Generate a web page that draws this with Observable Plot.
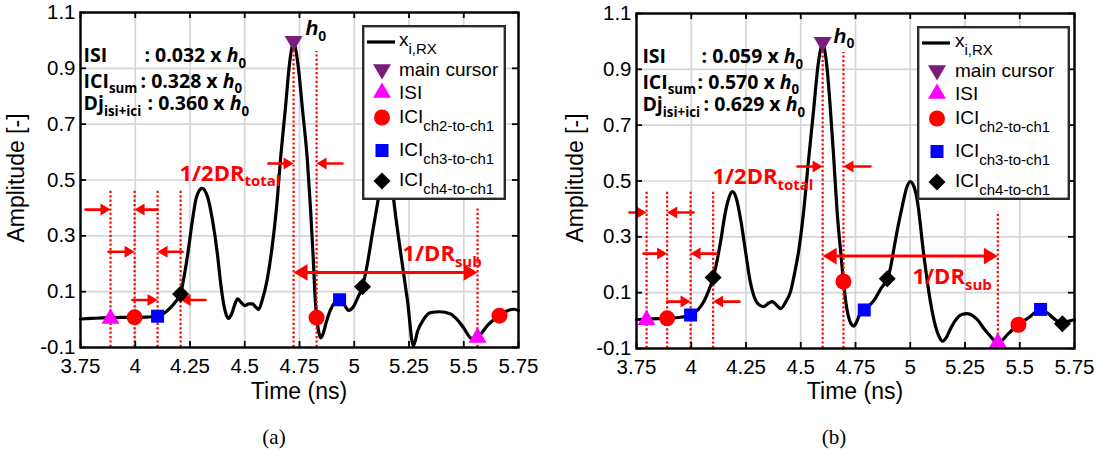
<!DOCTYPE html>
<html><head><meta charset="utf-8">
<script src="https://cdn.jsdelivr.net/npm/d3@7"></script>
<script src="https://cdn.jsdelivr.net/npm/@observablehq/plot@0.6"></script>
<style>
body{margin:0;background:#fff;}
#root{position:relative;width:1097px;height:450px;overflow:hidden;font-family:"Liberation Sans",Arial,sans-serif;color:#000;}
.panel{position:absolute;top:0;width:548px;height:400px;}
.ylab{position:absolute;font-size:23px;line-height:1;white-space:nowrap;transform:translate(-50%,-50%) rotate(-90deg);}
.xlab{position:absolute;font-size:23px;line-height:1;white-space:nowrap;transform:translateX(-50%);}
.cap{position:absolute;font-family:"Liberation Serif",serif;font-size:21px;line-height:1;transform:translate(-50%,-50%);}
.leg{position:absolute;overflow:visible;}
</style></head>
<body><div id="root"></div>
<script>
// ---------- data ----------
const xTicks = [3.75, 4, 4.25, 4.5, 4.75, 5, 5.25, 5.5, 5.75];
const yTicks = [-0.1, 0.1, 0.3, 0.5, 0.7, 0.9, 1.1];

// panel (a) received pulse x_i,RX
const timeA = [3.75,3.80,3.85,3.887,3.94,3.997,4.05,4.102,4.13,4.16,4.185,4.207,4.222,4.24,4.261,4.28,4.305,4.33,4.353,4.375,4.39,4.405,4.415,4.426,4.44,4.455,4.468,4.483,4.50,4.518,4.535,4.55,4.563,4.58,4.604,4.625,4.645,4.665,4.686,4.705,4.723,4.742,4.764,4.786,4.80,4.812,4.822,4.83,4.838,4.846,4.858,4.872,4.89,4.91,4.933,4.955,4.975,4.995,5.017,5.038,5.06,5.083,5.105,5.128,5.15,5.168,5.18,5.21,5.243,5.27,5.29,5.316,5.348,5.39,5.44,5.47,5.50,5.53,5.553,5.575,5.61,5.663,5.70,5.73,5.75];
const ampA  = [0.002,0.004,0.006,0.007,0.008,0.008,0.009,0.012,0.022,0.042,0.065,0.092,0.15,0.236,0.355,0.44,0.47,0.44,0.355,0.236,0.13,0.05,0.018,0.004,0.02,0.055,0.074,0.062,0.05,0.056,0.056,0.045,0.036,0.07,0.15,0.26,0.40,0.59,0.76,0.92,0.99,0.92,0.75,0.57,0.40,0.23,0.07,0.0,-0.045,-0.065,-0.05,-0.01,0.032,0.06,0.071,0.052,0.033,0.045,0.08,0.118,0.2,0.31,0.41,0.52,0.57,0.52,0.43,0.25,0.068,-0.094,-0.04,0.0,0.025,0.028,0.02,0.0,-0.03,-0.065,-0.072,-0.055,-0.02,0.014,0.032,0.037,0.032];

// panel (b)
const timeB = [3.75,3.796,3.85,3.89,3.94,3.997,4.03,4.06,4.08,4.10,4.118,4.134,4.155,4.172,4.188,4.205,4.226,4.248,4.268,4.284,4.305,4.33,4.352,4.37,4.39,4.408,4.43,4.453,4.472,4.49,4.513,4.535,4.558,4.58,4.60,4.618,4.636,4.65,4.666,4.682,4.695,4.705,4.716,4.73,4.742,4.755,4.768,4.79,4.815,4.84,4.864,4.885,4.895,4.91,4.923,4.945,4.965,4.983,5.0,5.017,5.033,5.06,5.092,5.115,5.132,5.147,5.165,5.184,5.21,5.235,5.26,5.285,5.307,5.336,5.366,5.39,5.40,5.45,5.494,5.545,5.595,5.625,5.655,5.695,5.725,5.75];
const ampB  = [0.003,0.005,0.007,0.008,0.011,0.02,0.038,0.072,0.108,0.154,0.215,0.283,0.385,0.44,0.462,0.44,0.36,0.247,0.145,0.093,0.06,0.05,0.062,0.068,0.055,0.043,0.065,0.103,0.17,0.247,0.39,0.57,0.749,0.92,0.99,0.92,0.75,0.59,0.39,0.25,0.14,0.07,0.02,-0.012,-0.02,-0.005,0.02,0.038,0.055,0.079,0.112,0.135,0.15,0.19,0.247,0.34,0.415,0.475,0.498,0.48,0.426,0.247,0.068,-0.02,-0.058,-0.074,-0.06,-0.029,0.005,0.022,0.025,0.018,0.003,-0.028,-0.056,-0.076,-0.08,-0.045,-0.015,0.013,0.04,0.028,0.008,-0.011,-0.002,0.003];

// sampled cursors [time, amplitude]
const mainA = [[4.723, 0.993]];
const isiA  = [[3.887, 0.008], [5.563, -0.06]];
const ch2A  = [[3.997, 0.008], [4.828, 0.007], [5.663, 0.014]];
const ch3A  = [[4.102, 0.012], [4.933, 0.071]];
const ch4A  = [[4.207, 0.092], [5.038, 0.118]];

const mainB = [[4.60, 0.993]];
const isiB  = [[3.796, 0.007], [5.40, -0.075]];
const ch2B  = [[3.89, 0.008], [4.695, 0.14], [5.494, -0.015]];
const ch3B  = [[3.997, 0.02], [4.79, 0.038], [5.595, 0.04]];
const ch4B  = [[4.10, 0.154], [4.895, 0.15], [5.695, -0.011]];

// dotted sampling instants [time, top amplitude]
const dottedA = [[3.887,0.46],[3.997,0.46],[4.102,0.46],[4.207,0.46],[4.723,0.99],[4.828,0.96],[5.563,0.40]];
const dottedB = [[3.796,0.46],[3.89,0.46],[3.997,0.46],[4.10,0.46],[4.60,0.99],[4.695,0.96],[5.40,0.39]];

// annotation arrows
const arrowsA = [
  {x1:3.773,x2:3.887,y:0.394},{x1:4.102,x2:3.997,y:0.394},
  {x1:3.878,x2:3.997,y:0.243},{x1:4.216,x2:4.102,y:0.243},
  {x1:3.987,x2:4.102,y:0.07},{x1:4.32,x2:4.207,y:0.07},
  {x1:4.608,x2:4.723,y:0.559},{x1:4.946,x2:4.828,y:0.559}];
const arrowsB = [
  {x1:3.718,x2:3.796,y:0.387},{x1:4.01,x2:3.89,y:0.387},
  {x1:3.782,x2:3.89,y:0.24},{x1:4.115,x2:3.997,y:0.24},
  {x1:3.89,x2:3.997,y:0.068},{x1:4.22,x2:4.10,y:0.068},
  {x1:4.485,x2:4.60,y:0.552},{x1:4.818,x2:4.695,y:0.552}];
const spanA = [{x1:4.723,x2:5.563,y:0.169}];
const spanB = [{x1:4.60,x2:5.40,y:0.231}];

// texts
const statLabels = ["ISI", "ICI_{sum}", "Dj_{isi+ici}"];
const statValsA = [": 0.032 x *{h}_{0}", ": 0.328 x *{h}_{0}", ": 0.360 x *{h}_{0}"];
const statValsB = [": 0.059 x *{h}_{0}", ": 0.570 x *{h}_{0}", ": 0.629 x *{h}_{0}"];
const statY = [0.921, 0.831, 0.749];
const statLabelXA = 3.764, statValXA = [4.042, 4.024, 4.056];
const statLabelXB = 3.777, statValXB = [4.047, 4.029, 4.056];
const halfDRLabel = "1/2DR_{total}", subDRLabel = "1/DR_{sub}", h0Label = "*{h}_{0}";
const textPosA = {half:[4.663,0.498], sub:[5.22,0.211], h0:[4.777,1.02]};
const textPosB = {half:[4.558,0.49], sub:[5.01,0.132], h0:[4.65,0.996]};

const legendLabels = ["x", "main cursor", "ISI", "ICI", "ICI", "ICI"];
const legendSubs = ["i,RX", "", "", "ch2-to-ch1", "ch3-to-ch1", "ch4-to-ch1"];

// ---------- styling ----------
const RED = "#ff0000", PURPLE = "#7a1c7c", MAGENTA = "#ff00ff", BLUE = "#0000ff";
const rOf = s => Math.sqrt(s / Math.PI);
const symTriUp = {draw(c, s){const r=rOf(s); c.moveTo(0,-r); c.lineTo(r,0.7*r); c.lineTo(-r,0.7*r); c.closePath();}};
const symTriDown = {draw(c, s){const r=rOf(s); c.moveTo(0,r); c.lineTo(r,-0.7*r); c.lineTo(-r,-0.7*r); c.closePath();}};
const symDiamond = {draw(c, s){const r=rOf(s); c.moveTo(0,-r); c.lineTo(r,0); c.lineTo(0,r); c.lineTo(-r,0); c.closePath();}};
const symSquare = {draw(c, s){const r=rOf(s); c.rect(-r,-r,2*r,2*r);}};
const symHeadR = {draw(c, s){const r=rOf(s); c.moveTo(0,0); c.lineTo(-r,-0.6*r); c.lineTo(-r,0.6*r); c.closePath();}};
const symHeadL = {draw(c, s){const r=rOf(s); c.moveTo(0,0); c.lineTo(r,-0.6*r); c.lineTo(r,0.6*r); c.closePath();}};

const W = 548, H = 400;
function panel(cfg) {
  const curve = cfg.t.map((t, i) => ({t, a: cfg.a[i]}));
  const fw = W - cfg.ml - cfg.mr, fh = H - cfg.mt - cfg.mb;
  const stats = statLabels.map((l, i) => ({l, v: cfg.vals[i], y: statY[i], vx: cfg.valX[i]}));
  const sansB = "Open Sans, Liberation Sans, sans-serif";
  return Plot.plot({
    width: W, height: H, marginLeft: cfg.ml, marginRight: cfg.mr, marginTop: cfg.mt, marginBottom: cfg.mb,
    style: {fontFamily: "Liberation Sans, Arial, sans-serif", fontSize: "20.5px", color: "black", background: "transparent", overflow: "visible"},
    x: {domain: [3.75, 5.75], ticks: xTicks, tickSize: 0, tickPadding: 11, tickFormat: d => String(d), label: null},
    y: {domain: [-0.1, 1.1], ticks: yTicks, tickSize: 0, tickPadding: 5, tickFormat: d => String(d), label: null},
    marks: [
      Plot.ruleX(xTicks, {stroke: "#d6d6d6", strokeWidth: 1.7}),
      Plot.ruleY(yTicks, {stroke: "#d6d6d6", strokeWidth: 1.7}),
      Plot.line(curve, {x: "t", y: "a", curve: "monotone-x", stroke: "black", strokeWidth: 3.2}),
      Plot.ruleX(cfg.dotted, {x: d => d[0], y1: -0.1, y2: d => d[1], stroke: RED, strokeWidth: 2.2, strokeDasharray: "2.2,2.2"}),
      Plot.arrow(cfg.arrows, {x1: "x1", x2: "x2", y1: "y", y2: "y", stroke: RED, strokeWidth: 2.6, headLength: 0, insetEnd: 6}),
      Plot.dot(cfg.arrows, {filter: d => d.x2 > d.x1, x: "x2", y: "y", symbol: symHeadR, r: 10, fill: RED, stroke: "none"}),
      Plot.dot(cfg.arrows, {filter: d => d.x2 < d.x1, x: "x2", y: "y", symbol: symHeadL, r: 10, fill: RED, stroke: "none"}),
      Plot.arrow(cfg.span, {x1: "x1", x2: "x2", y1: "y", y2: "y", stroke: RED, strokeWidth: 3, headLength: 0, insetStart: 8, insetEnd: 8}),
      Plot.dot(cfg.span, {x: "x2", y: "y", symbol: symHeadR, r: 14, fill: RED, stroke: "none"}),
      Plot.dot(cfg.span, {x: "x1", y: "y", symbol: symHeadL, r: 14, fill: RED, stroke: "none"}),
      Plot.dot(cfg.isi, {x: d => d[0], y: d => d[1], symbol: symTriUp, r: 9, fill: MAGENTA, stroke: "none"}),
      Plot.dot(cfg.ch2, {x: d => d[0], y: d => d[1], symbol: "circle", r: 8, fill: RED, stroke: "none"}),
      Plot.dot(cfg.ch3, {x: d => d[0], y: d => d[1], symbol: symSquare, r: 6.5, fill: BLUE, stroke: "none"}),
      Plot.dot(cfg.ch4, {x: d => d[0], y: d => d[1], symbol: symDiamond, r: 8.5, fill: "black", stroke: "none"}),
      Plot.dot(cfg.main, {x: d => d[0], y: d => d[1], symbol: symTriDown, r: 9, fill: PURPLE, stroke: "none"}),
      Plot.text(stats, {x: () => cfg.labelX, y: "y", text: "l", textAnchor: "start", lineAnchor: "bottom", fontFamily: sansB, fontWeight: "bold", fontSize: 19.5, fill: "black"}),
      Plot.text(stats, {x: "vx", y: "y", text: "v", textAnchor: "start", lineAnchor: "bottom", fontFamily: sansB, fontWeight: "bold", fontSize: 19.5, fill: "black"}),
      Plot.text([cfg.pos.half], {x: d => d[0], y: d => d[1], text: () => halfDRLabel, textAnchor: "end", lineAnchor: "bottom", fontFamily: sansB, fontWeight: "bold", fontSize: 22, fill: RED}),
      Plot.text([cfg.pos.sub], {x: d => d[0], y: d => d[1], text: () => subDRLabel, textAnchor: "start", lineAnchor: "bottom", fontFamily: sansB, fontWeight: "bold", fontSize: 22, fill: RED}),
      Plot.text([cfg.pos.h0], {x: d => d[0], y: d => d[1], text: () => h0Label, textAnchor: "start", lineAnchor: "bottom", fontFamily: "Liberation Sans, Arial, sans-serif", fontWeight: "bold", fontSize: 21, fill: "black"}),
      Plot.frame({stroke: "black", strokeWidth: 2.4}),
      Plot.tickX(xTicks, {x: d => d, insetTop: fh - 6, stroke: "black", strokeWidth: 1.8}),
      Plot.tickX(xTicks, {x: d => d, insetBottom: fh - 6, stroke: "black", strokeWidth: 1.8}),
      Plot.tickY(yTicks, {y: d => d, insetRight: fw - 6, stroke: "black", strokeWidth: 1.8}),
      Plot.tickY(yTicks, {y: d => d, insetLeft: fw - 6, stroke: "black", strokeWidth: 1.8})
    ]
  });
}

function richText(root, ratio, shift) {
  root.querySelectorAll("text").forEach(el => {
    const s = el.textContent;
    if (!/[_*]\{/.test(s)) return;
    const fs = parseFloat(getComputedStyle(el).fontSize);
    el.textContent = "";
    let cur = 0; const re = /([_*])\{([^}]*)\}|([^_*]+)/g; let m;
    while ((m = re.exec(s))) {
      const ts = document.createElementNS("http://www.w3.org/2000/svg", "tspan");
      let target = 0;
      if (m[1] === "_") { target = fs * shift; ts.setAttribute("font-size", (fs * ratio).toFixed(1)); ts.textContent = m[2]; }
      else if (m[1] === "*") { ts.setAttribute("font-style", "italic"); ts.textContent = m[2]; }
      else ts.textContent = m[3];
      if (target !== cur) { ts.setAttribute("dy", (target - cur).toFixed(1)); cur = target; }
      el.appendChild(ts);
    }
  });
}

function legend(root, L) {
  const svg = d3.select(root).append("svg").attr("class", "leg")
    .attr("width", L.w).attr("height", L.h)
    .style("left", L.left + "px").style("top", L.top + "px");
  svg.append("rect").attr("x", 1.2).attr("y", 1.2).attr("width", L.w - 2.4).attr("height", L.h - 2.4)
    .attr("fill", "white").attr("stroke", "#2b2b2b").attr("stroke-width", 2.4);
  svg.append("line").attr("x1", 5).attr("x2", 33).attr("y1", 17).attr("y2", 17).attr("stroke", "black").attr("stroke-width", 3.2);
  const syms = [null, [symTriDown, PURPLE, 9], [symTriUp, MAGENTA, 9], ["circle", RED, 8], [symSquare, BLUE, 6.5], [symDiamond, "black", 8.5]];
  const markY = [17, 45.5, 66.5, 92.5, 125.5, 156];
  const baseY = [20.5, 50.5, 73.5, 97.5, 131, 160.5];
  legendLabels.forEach((lab, i) => {
    const s = syms[i];
    if (s) {
      const type = s[0] === "circle" ? d3.symbolCircle : s[0];
      svg.append("path").attr("d", d3.symbol(type, Math.PI * s[2] * s[2])())
        .attr("transform", `translate(${L.mx},${markY[i]})`).attr("fill", s[1]);
    }
    const t = svg.append("text").attr("x", L.tx).attr("y", baseY[i])
      .attr("font-family", "Liberation Sans, Arial, sans-serif").attr("font-size", 19);
    t.append("tspan").text(lab);
    if (legendSubs[i]) t.append("tspan").attr("font-size", 15).attr("dy", 8).text(legendSubs[i]);
  });
}

const root = document.getElementById("root");
function addDiv(cls, txt, left, top) {
  const d = document.createElement("div"); d.className = cls; d.textContent = txt;
  d.style.left = left + "px"; d.style.top = top + "px"; root.appendChild(d); return d;
}

const cfgA = {t: timeA, a: ampA, main: mainA, isi: isiA, ch2: ch2A, ch3: ch3A, ch4: ch4A, dotted: dottedA,
  arrows: arrowsA, span: spanA, vals: statValsA, valX: statValXA, labelX: statLabelXA, pos: textPosA,
  ml: 80, mr: 30, mt: 12, mb: 53};
const cfgB = {t: timeB, a: ampB, main: mainB, isi: isiB, ch2: ch2B, ch3: ch3B, ch4: ch4B, dotted: dottedB,
  arrows: arrowsB, span: spanB, vals: statValsB, valX: statValXB, labelX: statLabelXB, pos: textPosB,
  ml: 88, mr: 22, mt: 13, mb: 52};

[[cfgA, 0], [cfgB, 548]].forEach(([cfg, left]) => {
  const holder = document.createElement("div");
  holder.className = "panel"; holder.style.left = left + "px";
  root.appendChild(holder);
  holder.appendChild(panel(cfg));
  richText(holder, 0.68, 0.27);
});

addDiv("ylab", "Amplitude [-]", 16, 178);
addDiv("ylab", "Amplitude [-]", 575, 178);
addDiv("xlab", "Time (ns)", 299, 380);
addDiv("xlab", "Time (ns)", 855, 380);
addDiv("cap", "(a)", 274, 437);
addDiv("cap", "(b)", 834, 437);

legend(root, {left: 362, top: 25, w: 144, h: 175, mx: 20, tx: 37});
legend(root, {left: 917, top: 26, w: 153, h: 174, mx: 20, tx: 38});
</script>
</body></html>
